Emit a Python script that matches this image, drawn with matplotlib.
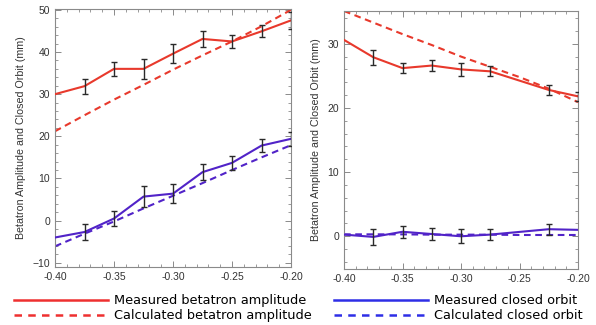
import matplotlib
matplotlib.use("Agg")
import matplotlib.pyplot as plt
from matplotlib.lines import Line2D
from matplotlib.ticker import MultipleLocator

# ---------------- data ----------------
x_line = [-0.40, -0.375, -0.35, -0.325, -0.30, -0.275, -0.25, -0.225, -0.20]

# left panel
L_red_meas = [30.0, 31.9, 36.0, 36.0, 39.6, 43.1, 42.5, 44.9, 47.5]
L_red_err = [0.0, 1.8, 1.7, 2.4, 2.2, 2.0, 1.5, 1.4, 2.0]
L_red_calc = [21.2, 25.0, 28.7, 32.2, 35.8, 39.2, 42.5, 46.1, 50.0]
L_blue_meas = [-4.0, -2.7, 0.5, 5.7, 6.4, 11.5, 13.7, 17.8, 19.4]
L_blue_err = [0.0, 1.8, 1.7, 2.4, 2.2, 1.9, 1.6, 1.5, 1.7]
L_blue_calc = [-6.1, -3.1, -0.2, 2.9, 5.9, 8.9, 12.0, 15.0, 17.9]

# right panel (no measurement at -0.25)
x_right = [-0.40, -0.375, -0.35, -0.325, -0.30, -0.275, -0.225, -0.20]
R_red_meas = [30.6, 27.9, 26.2, 26.6, 26.0, 25.7, 22.8, 21.8]
R_red_err = [0.0, 1.2, 0.8, 0.85, 1.0, 0.8, 0.8, 0.75]
R_red_calc = [35.1, 33.3, 31.5, 29.8, 28.0, 26.4, 24.8, 23.0, 20.9]
R_blue_meas = [0.26, -0.1, 0.7, 0.35, 0.0, 0.26, 1.1, 1.0]
R_blue_err = [0.0, 1.2, 0.9, 0.9, 1.1, 0.85, 0.85, 0.0]
R_blue_calc = [0.3, 0.3, 0.3, 0.25, 0.25, 0.25, 0.2, 0.2, 0.2]

xticks = [-0.40, -0.35, -0.30, -0.25, -0.20]
xticklabels = ["-0.40", "-0.35", "-0.30", "-0.25", "-0.20"]
ylabel = "Betatron Amplitude and Closed Orbit (mm)"

legend_labels = ["Measured betatron amplitude", "Calculated betatron amplitude",
                 "Measured closed orbit", "Calculated closed orbit"]

# ---------------- style ----------------
RED = "#e8392c"
BLUE = "#5123c8"
LEG_RED = "#ee3030"
LEG_BLUE = "#2e2ee6"
ERR = "#2a2a2a"
FRAME = "#8a8a8a"

fig = plt.figure(figsize=(5.96, 3.25), dpi=100)
axL = fig.add_axes([55 / 596, 1 - 267 / 325, 236 / 596, 258 / 325])
axR = fig.add_axes([344 / 596, 1 - 269 / 325, 234 / 596, 258 / 325])


def draw(ax, xm, rm, re, xc, rc, bm, be, bc):
    ax.plot(xc, rc, color=RED, lw=1.5, ls=(0, (3.2, 2.2)), zorder=2)
    ax.plot(xc, bc, color=BLUE, lw=1.5, ls=(0, (3.2, 2.2)), zorder=2)
    ax.plot(xm, rm, color=RED, lw=1.5, zorder=3)
    ax.plot(xm, bm, color=BLUE, lw=1.5, zorder=3)
    for vals, errs in ((rm, re), (bm, be)):
        xs = [x for x, e in zip(xm, errs) if e > 0]
        ys = [v for v, e in zip(vals, errs) if e > 0]
        es = [e for e in errs if e > 0]
        ax.errorbar(xs, ys, yerr=es, fmt="none", ecolor=ERR, elinewidth=1.0,
                    capsize=2, capthick=1.0, zorder=4)
    ax.set_xlim(-0.40, -0.20)
    ax.set_xticks(xticks)
    ax.set_xticklabels(xticklabels)
    ax.xaxis.set_minor_locator(MultipleLocator(0.01))
    ax.yaxis.set_minor_locator(MultipleLocator(2))
    ax.tick_params(which="both", direction="in", top=True, right=True,
                   colors=FRAME, labelcolor="#333333", labelsize=7.5)
    ax.tick_params(which="major", length=4, width=0.7)
    ax.tick_params(which="minor", length=2, width=0.6)
    for s in ax.spines.values():
        s.set_color(FRAME)
        s.set_linewidth(0.8)
    ax.set_ylabel(ylabel, fontsize=7.7, color="#333333", labelpad=5,
                  family="Liberation Sans")
    for lab in ax.get_xticklabels() + ax.get_yticklabels():
        lab.set_family("Liberation Sans")


draw(axL, x_line, L_red_meas, L_red_err, x_line, L_red_calc,
     L_blue_meas, L_blue_err, L_blue_calc)
axL.set_ylim(-11, 50.2)
axL.set_yticks([-10, 0, 10, 20, 30, 40, 50])

draw(axR, x_right, R_red_meas, R_red_err, x_line, R_red_calc,
     R_blue_meas, R_blue_err, R_blue_calc)
axR.set_ylim(-5.1, 35.1)
axR.set_yticks([0, 10, 20, 30])

handles = [Line2D([], [], color=LEG_RED, lw=1.8),
           Line2D([], [], color=LEG_RED, lw=1.8, ls=(0, (3, 2.5))),
           Line2D([], [], color=LEG_BLUE, lw=1.8),
           Line2D([], [], color=LEG_BLUE, lw=1.8, ls=(0, (3, 2.5)))]
fig.legend(handles, legend_labels, ncol=2, loc="lower left",
           bbox_to_anchor=(0.017, -0.004), frameon=False, fontsize=9.3,
           handlelength=7.3, handletextpad=0.45, columnspacing=1.7,
           labelspacing=0.15, borderaxespad=0.0, borderpad=0.3)

fig.savefig("out.png", dpi=100)
